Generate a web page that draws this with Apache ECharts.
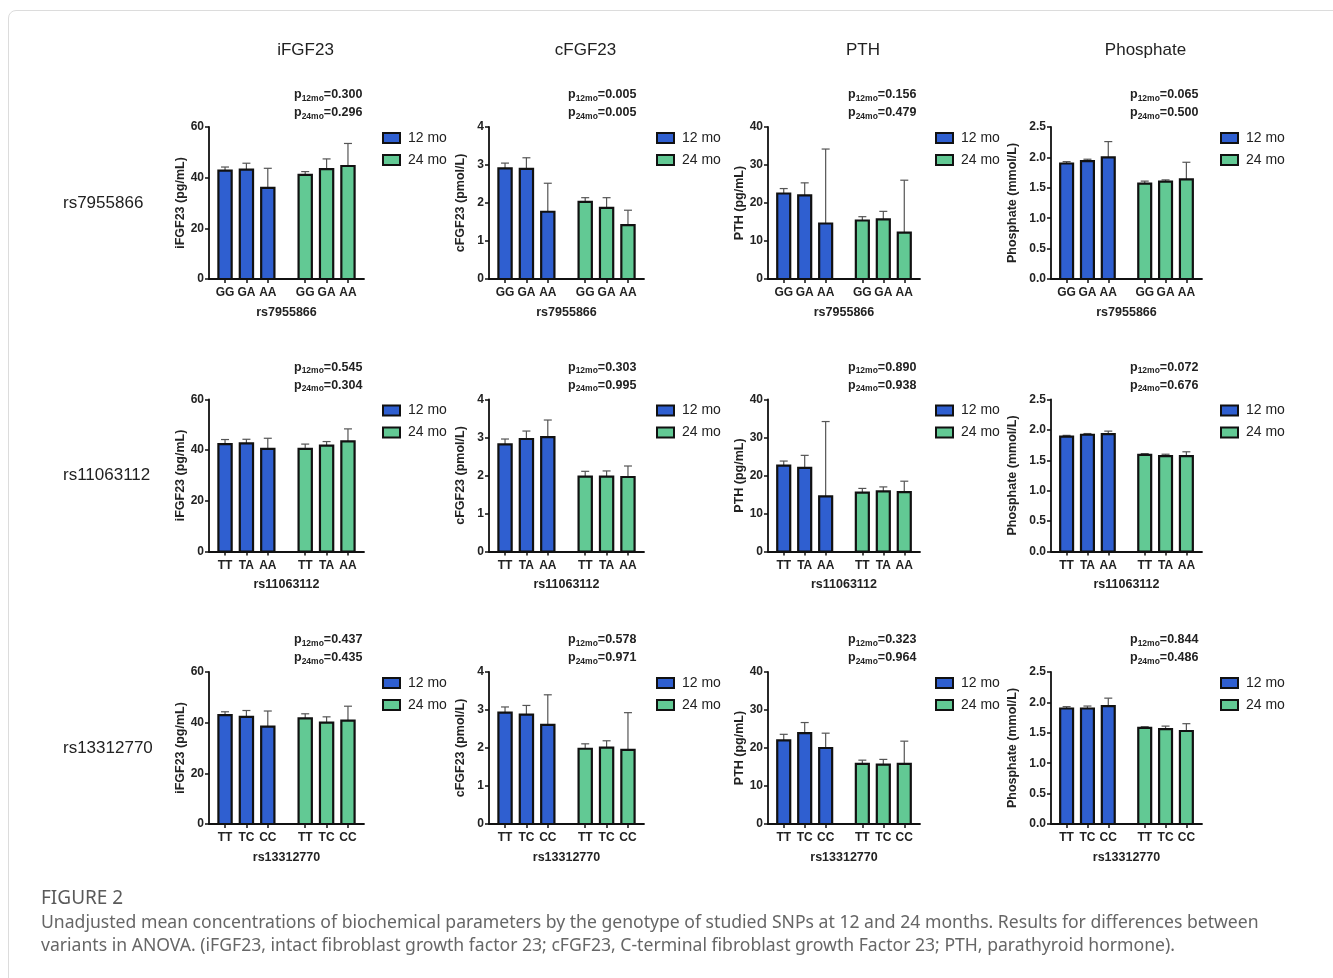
<!DOCTYPE html>
<html>
<head>
<meta charset="utf-8">
<script src="https://cdn.jsdelivr.net/npm/echarts@6/dist/echarts.min.js"></script>
<style>
  html, body { margin: 0; padding: 0; background: #fff; }
  #frame { position: absolute; left: 8px; top: 10px; width: 1340px; height: 990px;
           border: 1px solid #dcdcdc; border-radius: 8px; }
  #chart { position: absolute; left: 0; top: 0; width: 1333px; height: 978px; }
</style>
</head>
<body>
<div id="frame"></div>
<div id="chart"></div>
<script>
// ---- Data -------------------------------------------------------------
const markers = ['iFGF23', 'cFGF23', 'PTH', 'Phosphate'];
const yNames = ['iFGF23 (pg/mL)', 'cFGF23 (pmol/L)', 'PTH (pg/mL)', 'Phosphate (mmol/L)'];
const yMax = [60, 4, 40, 2.5];
const yStep = [20, 1, 10, 0.5];
const snps = ['rs7955866', 'rs11063112', 'rs13312770'];
const genotypes = [['GG', 'GA', 'AA'], ['TT', 'TA', 'AA'], ['TT', 'TC', 'CC']];
const periods = ['12 mo', '24 mo'];

// means, one row per SNP (rs7955866, rs11063112, rs13312770)
const iFGF23_12 = [[42.8, 43.2, 36.0], [42.4, 42.7, 40.5], [43.0, 42.3, 38.4]];
const iFGF23_24 = [[41.1, 43.4, 44.6], [40.5, 41.8, 43.5], [41.7, 40.0, 40.8]];
const cFGF23_12 = [[2.91, 2.90, 1.77], [2.82, 2.96, 3.01], [2.93, 2.88, 2.61]];
const cFGF23_24 = [[2.03, 1.87, 1.42], [1.97, 1.97, 1.96], [1.98, 2.01, 1.95]];
const PTH_12 = [[22.5, 22.0, 14.6], [22.6, 22.0, 14.5], [22.0, 23.9, 20.0]];
const PTH_24 = [[15.4, 15.7, 12.2], [15.5, 15.8, 15.6], [15.8, 15.6, 15.8]];
const phosphate_12 = [[1.90, 1.94, 2.00], [1.89, 1.92, 1.93], [1.90, 1.90, 1.94]];
const phosphate_24 = [[1.57, 1.60, 1.64], [1.59, 1.57, 1.57], [1.58, 1.56, 1.53]];

// upper error bar lengths
const iFGF23_12_err = [[1.4, 2.5, 7.7], [1.8, 1.6, 4.2], [1.3, 2.5, 6.2]];
const iFGF23_24_err = [[1.3, 4.0, 8.9], [1.9, 1.6, 4.9], [1.8, 2.3, 5.7]];
const cFGF23_12_err = [[0.14, 0.29, 0.75], [0.14, 0.21, 0.45], [0.15, 0.24, 0.79]];
const cFGF23_24_err = [[0.11, 0.27, 0.39], [0.14, 0.15, 0.29], [0.13, 0.18, 0.98]];
const PTH_12_err = [[1.3, 3.3, 19.6], [1.2, 3.3, 19.7], [1.6, 2.8, 3.9]];
const PTH_24_err = [[1.0, 2.1, 13.8], [1.1, 1.2, 2.9], [1.0, 1.4, 6.0]];
const phosphate_12_err = [[0.03, 0.03, 0.26], [0.02, 0.02, 0.05], [0.03, 0.04, 0.13]];
const phosphate_24_err = [[0.04, 0.03, 0.28], [0.02, 0.03, 0.07], [0.02, 0.05, 0.12]];

// ANOVA p-values [12 mo, 24 mo], rows = SNPs, columns = markers
const pValues = [
  [['0.300', '0.296'], ['0.005', '0.005'], ['0.156', '0.479'], ['0.065', '0.500']],
  [['0.545', '0.304'], ['0.303', '0.995'], ['0.890', '0.938'], ['0.072', '0.676']],
  [['0.437', '0.435'], ['0.578', '0.971'], ['0.323', '0.964'], ['0.844', '0.486']]
];

const means = [[iFGF23_12, iFGF23_24], [cFGF23_12, cFGF23_24], [PTH_12, PTH_24], [phosphate_12, phosphate_24]];
const errs = [[iFGF23_12_err, iFGF23_24_err], [cFGF23_12_err, cFGF23_24_err],
              [PTH_12_err, PTH_24_err], [phosphate_12_err, phosphate_24_err]];

// bar positions on the x scale: two groups of three with a gap between
const groupPos = [[0, 1, 2], [3.75, 4.75, 5.75]];
const allPos = groupPos[0].concat(groupPos[1]);

// ---- Layout & style --------------------------------------------------
const FONT = '"Liberation Sans", Arial, Helvetica, sans-serif';
const colLeft = [209, 489, 768, 1051];
const colWidth = [155, 155, 152, 151];
const rowTop = [127, 399.5, 672];
const plotH = 152;
const colors = ['#2f5fd0', '#62c994'];
const BAR_W = 0.62;
const pLeftOff = [85, 79, 80, 79];
const legendOff = [173, 167, 167, 169];
const yNameGap = [22, 22, 22, 32];

function renderBar(params, api) {
  const x = api.value(0), m = api.value(1), e = api.value(2);
  const top = api.coord([x, m]);
  const base = api.coord([x, 0]);
  const tip = api.coord([x, m + e]);
  const w = api.size([BAR_W, 0])[0];
  const cap = 8;
  return {
    type: 'group',
    children: [
      { type: 'line', shape: { x1: top[0], y1: top[1], x2: tip[0], y2: tip[1] },
        style: { stroke: '#555', lineWidth: 1.2 } },
      { type: 'line', shape: { x1: tip[0] - cap / 2, y1: tip[1], x2: tip[0] + cap / 2, y2: tip[1] },
        style: { stroke: '#555', lineWidth: 1.2 } },
      { type: 'rect', shape: { x: top[0] - w / 2, y: top[1], width: w, height: base[1] - top[1] },
        style: { fill: api.visual('color'), stroke: '#111', lineWidth: 2.2 } }
    ]
  };
}

const grids = [], xAxes = [], yAxes = [], series = [], legends = [], graphics = [];

snps.forEach((snp, r) => {
  markers.forEach((mk, c) => {
    const idx = grids.length;
    grids.push({ left: colLeft[c], top: rowTop[r], width: colWidth[c], height: plotH });
    const labels = genotypes[r].concat(genotypes[r]);
    xAxes.push({
      gridIndex: idx, type: 'value', min: -0.75, max: 6.5,
      name: snp, nameLocation: 'middle', nameGap: 27,
      nameTextStyle: { fontFamily: FONT, fontWeight: 'bold', fontSize: 12.5, color: '#222' },
      axisLine: { show: true, onZero: false, lineStyle: { color: '#111', width: 1.8 } },
      axisTick: { show: true, customValues: allPos, length: 4, lineStyle: { color: '#111', width: 1.5 } },
      axisLabel: {
        customValues: allPos, margin: 8,
        fontFamily: FONT, fontWeight: 'bold', fontSize: 12, color: '#222',
        formatter: v => {
          const i = allPos.findIndex(p => Math.abs(p - v) < 1e-6);
          return i >= 0 ? labels[i] : '';
        }
      },
      splitLine: { show: false }
    });
    yAxes.push({
      gridIndex: idx, type: 'value', min: 0, max: yMax[c], interval: yStep[c],
      name: yNames[c], nameLocation: 'middle', nameGap: yNameGap[c],
      nameTextStyle: { fontFamily: FONT, fontWeight: 'bold', fontSize: 12.5, color: '#222' },
      axisLine: { show: true, onZero: false, lineStyle: { color: '#111', width: 1.8 } },
      axisTick: { show: true, length: 4, lineStyle: { color: '#111', width: 1.5 } },
      axisLabel: {
        margin: 5, fontFamily: FONT, fontWeight: 'bold', fontSize: 12, color: '#222',
        formatter: v => (c === 3 ? v.toFixed(1) : String(v))
      },
      splitLine: { show: false }
    });
    periods.forEach((pd, g) => {
      series.push({
        type: 'custom', name: pd, xAxisIndex: idx, yAxisIndex: idx,
        itemStyle: { color: colors[g] },
        renderItem: renderBar, clip: false,
        data: groupPos[g].map((x, i) => [x, means[c][g][r][i], errs[c][g][r][i]])
      });
    });
    legends.push({
      data: periods, orient: 'vertical', left: colLeft[c] + legendOff[c], top: rowTop[r] + 4,
      padding: 0, icon: 'rect', itemWidth: 17, itemHeight: 10, itemGap: 8, selectedMode: false,
      itemStyle: { borderColor: '#111', borderWidth: 2 },
      textStyle: { fontFamily: FONT, fontSize: 14, color: '#222', padding: [0, 0, 0, 3] }
    });
    // ANOVA p-values above each panel
    [0, 1].forEach(g => {
      graphics.push({
        type: 'text', x: colLeft[c] + pLeftOff[c], y: rowTop[r] - 32 + g * 18,
        style: {
          text: '{p|p}{s|' + (g === 0 ? '12mo' : '24mo') + '}{p|=' + pValues[r][c][g] + '}',
          verticalAlign: 'middle',
          rich: {
            p: { fontFamily: FONT, fontWeight: 'bold', fontSize: 12.5, lineHeight: 16, fill: '#222' },
            s: { fontFamily: FONT, fontWeight: 'bold', fontSize: 8.5, lineHeight: 9, verticalAlign: 'bottom', fill: '#222' }
          }
        }
      });
    });
  });
  // SNP row labels
  graphics.push({
    type: 'text', x: 63, y: rowTop[r] + plotH / 2,
    style: { text: snp, font: '17px ' + FONT, fill: '#222', verticalAlign: 'middle' }
  });
});

// column titles
markers.forEach((mk, c) => {
  graphics.push({
    type: 'text', x: colLeft[c] + colWidth[c] / 2 + 19, y: 50,
    style: { text: mk, font: '17px ' + FONT, fill: '#222', align: 'center', verticalAlign: 'middle' }
  });
});

// figure caption
const CAP_FONT = '"Noto Sans", "Open Sans", sans-serif';
graphics.push({
  type: 'text', x: 41, y: 899,
  style: { text: 'FIGURE 2', font: '19px ' + CAP_FONT, fill: '#5a5a5a', verticalAlign: 'middle' }
});
graphics.push({
  type: 'text', x: 41, y: 923,
  style: {
    text: 'Unadjusted mean concentrations of biochemical parameters by the genotype of studied SNPs at 12 and 24 months. Results for differences between',
    font: '17.6px ' + CAP_FONT, fill: '#666', verticalAlign: 'middle'
  }
});
graphics.push({
  type: 'text', x: 41, y: 946,
  style: {
    text: 'variants in ANOVA. (iFGF23, intact fibroblast growth factor 23; cFGF23, C-terminal fibroblast growth Factor 23; PTH, parathyroid hormone).',
    font: '17.6px ' + CAP_FONT, fill: '#666', verticalAlign: 'middle'
  }
});

const chart = echarts.init(document.getElementById('chart'), null, { renderer: 'canvas' });
chart.setOption({
  backgroundColor: 'transparent',
  animation: false,
  grid: grids,
  xAxis: xAxes,
  yAxis: yAxes,
  legend: legends,
  series: series,
  graphic: graphics
});
</script>
</body>
</html>
